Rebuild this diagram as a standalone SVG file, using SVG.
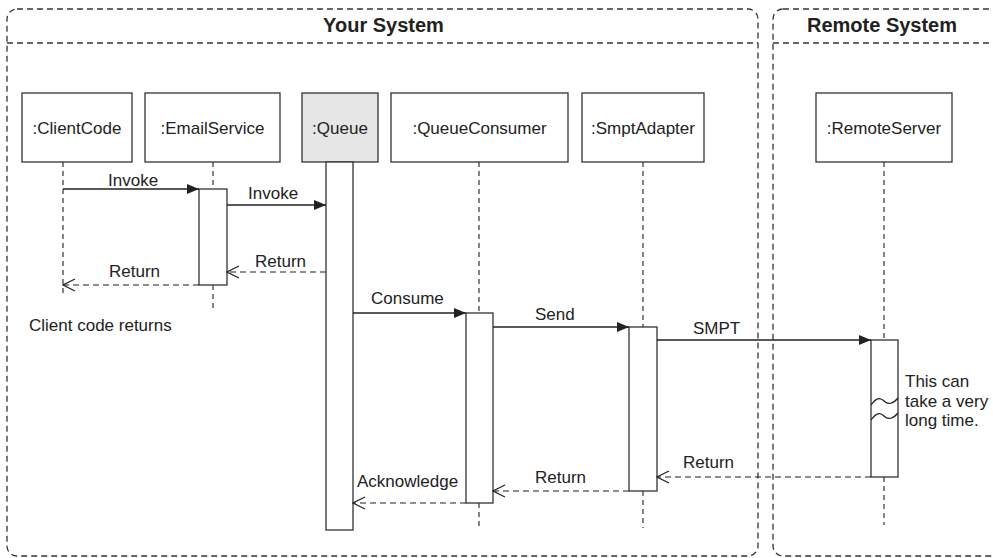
<svg xmlns="http://www.w3.org/2000/svg" width="993" height="558" viewBox="0 0 993 558">
<style>
text{font-family:"Liberation Sans",Arial,sans-serif;fill:#222;}
.t{font-size:17px;}
.title{font-size:20px;font-weight:bold;text-anchor:middle;}
.c{text-anchor:middle;}
.frame{fill:none;stroke:#333;stroke-width:1.3;stroke-dasharray:6 4;}
.box{fill:#fff;stroke:#333;stroke-width:1.3;}
.life{fill:none;stroke:#333;stroke-width:1.2;stroke-dasharray:5 4;}
.call{fill:none;stroke:#222;stroke-width:1.3;marker-end:url(#filled);}
.ret{fill:none;stroke:#222;stroke-width:1.2;stroke-dasharray:6 4;marker-end:url(#open);}
.wave{fill:none;stroke:#222;stroke-width:1.2;}
</style>
<defs>
<marker id="filled" viewBox="0 0 12 10" refX="12" refY="5" markerWidth="12" markerHeight="10" markerUnits="userSpaceOnUse" orient="auto">
<path d="M0,0 L12,5 L0,10 z" fill="#222"/>
</marker>
<marker id="open" viewBox="0 0 14 14" refX="13" refY="7" markerWidth="14" markerHeight="14" markerUnits="userSpaceOnUse" orient="auto">
<path d="M1,1 L13,7 L1,13" fill="none" stroke="#222" stroke-width="1.2" stroke-dasharray="none"/>
</marker>
</defs>

<g id="frame-your-system">
<rect class="frame" x="7" y="9" width="751" height="547" rx="10"/>
<line class="frame" x1="7" y1="43" x2="758" y2="43"/>
<text class="title" x="383.5" y="32">Your System</text>
</g>
<g id="frame-remote-system">
<rect class="frame" x="773" y="9" width="260" height="547" rx="10"/>
<line class="frame" x1="773" y1="43" x2="993" y2="43"/>
<text class="title" x="882" y="32">Remote System</text>
</g>

<g id="lifelines">
<line class="life" x1="63" y1="162" x2="63" y2="296"/>
<line class="life" x1="213" y1="162" x2="213" y2="189"/>
<line class="life" x1="213" y1="285" x2="213" y2="312"/>
<line class="life" x1="479" y1="162" x2="479" y2="313"/>
<line class="life" x1="479" y1="503" x2="479" y2="528"/>
<line class="life" x1="643" y1="162" x2="643" y2="327"/>
<line class="life" x1="643" y1="491" x2="643" y2="528"/>
<line class="life" x1="884" y1="162" x2="884" y2="340"/>
<line class="life" x1="884" y1="477" x2="884" y2="525"/>
</g>

<g id="node-clientcode">
<rect class="box" x="22" y="93" width="110" height="69"/>
<text class="t c" x="77" y="134">:ClientCode</text>
</g>
<g id="node-emailservice">
<rect class="box" x="145" y="93" width="135" height="69"/>
<text class="t c" x="212.5" y="134">:EmailService</text>
<rect class="box" x="199" y="189" width="28" height="96"/>
</g>
<g id="node-queue">
<rect class="box" x="302" y="93" width="76" height="69" style="fill:#e6e6e6"/>
<text class="t c" x="340" y="134">:Queue</text>
<rect class="box" x="326" y="162" width="27" height="368"/>
</g>
<g id="node-queueconsumer">
<rect class="box" x="391" y="93" width="177" height="69"/>
<text class="t c" x="479.5" y="134">:QueueConsumer</text>
<rect class="box" x="466" y="313" width="27" height="190"/>
</g>
<g id="node-smptadapter">
<rect class="box" x="582" y="93" width="122" height="69"/>
<text class="t c" x="643" y="134">:SmptAdapter</text>
<rect class="box" x="629" y="327" width="28" height="164"/>
</g>
<g id="node-remoteserver">
<rect class="box" x="816" y="93" width="136" height="69"/>
<text class="t c" x="884" y="134">:RemoteServer</text>
<rect class="box" x="871" y="340" width="27" height="137"/>
<path class="wave" d="M871,405 C876,398 880,397 884,401 C888,405 893,404 898,398"/>
<path class="wave" d="M871,420 C876,413 880,412 884,416 C888,420 893,419 898,413"/>
<text class="t" x="905" y="387">This can</text>
<text class="t" x="905" y="406.5">take a very</text>
<text class="t" x="905" y="426">long time.</text>
</g>

<g id="connectors">
<line class="call" x1="63" y1="189" x2="199" y2="189"/>
<line class="call" x1="227" y1="205" x2="326" y2="205"/>
<line class="ret" x1="326" y1="272" x2="227" y2="272"/>
<line class="ret" x1="199" y1="285" x2="63" y2="285"/>
<line class="call" x1="353" y1="313" x2="466" y2="313"/>
<line class="call" x1="493" y1="327" x2="629" y2="327"/>
<line class="call" x1="657" y1="340" x2="871" y2="340"/>
<line class="ret" x1="871" y1="477" x2="657" y2="477"/>
<line class="ret" x1="629" y1="491" x2="493" y2="491"/>
<line class="ret" x1="466" y1="503" x2="353" y2="503"/>
</g>

<g id="labels">
<text class="t" x="108" y="186">Invoke</text>
<text class="t" x="248" y="199">Invoke</text>
<text class="t" x="255" y="267">Return</text>
<text class="t" x="109" y="277">Return</text>
<text class="t" x="29" y="331">Client code returns</text>
<text class="t" x="371" y="304">Consume</text>
<text class="t" x="535" y="320">Send</text>
<text class="t" x="693" y="334">SMPT</text>
<text class="t" x="683" y="468">Return</text>
<text class="t" x="535" y="483">Return</text>
<text class="t" x="357" y="487">Acknowledge</text>
</g>
</svg>
